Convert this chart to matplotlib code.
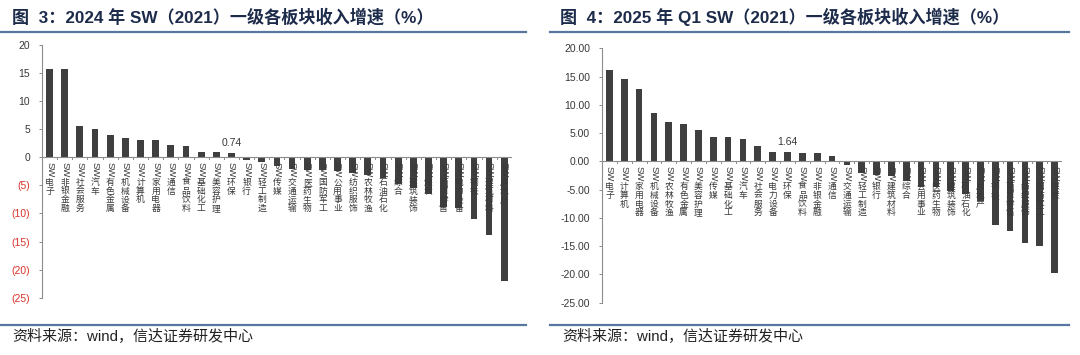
import matplotlib.pyplot as plt
from matplotlib.lines import Line2D
from matplotlib.ticker import FixedLocator

# 2024 年各一级行业收入增速（%）
cats_2024 = ['电子', '非银金融', '社会服务', '汽车', '有色金属', '机械设备', '计算机', '家用电器',
             '通信', '食品饮料', '基础化工', '美容护理', '环保', '银行', '轻工制造', '传媒',
             '交通运输', '医药生物', '国防军工', '公用事业', '纺织服饰', '农林牧渔', '石油石化',
             '综合', '建筑装饰', '煤炭', '商贸零售', '电力设备', '钢铁', '建筑材料', '房地产']
vals_2024 = [15.8, 15.7, 5.5, 5.1, 4.0, 3.45, 3.15, 3.1, 2.26, 2.0, 0.97, 0.95, 0.74, -0.45,
             -0.8, -1.5, -2.0, -2.2, -2.3, -2.5, -2.8, -3.1, -3.6, -4.7, -5.4, -6.6, -8.9,
             -9.0, -11.0, -13.8, -22.1]

# 2025Q1 各一级行业收入增速（%）
cats_2025 = ['电子', '计算机', '家用电器', '机械设备', '农林牧渔', '有色金属', '美容护理', '传媒',
             '基础化工', '汽车', '社会服务', '电力设备', '环保', '食品饮料', '非银金融', '通信',
             '交通运输', '轻工制造', '银行', '建筑材料', '综合', '公用事业', '医药生物', '建筑装饰',
             '石油石化', '房地产', '钢铁', '商贸零售', '纺织服饰', '国防军工', '煤炭']
vals_2025 = [16.2, 14.6, 12.8, 8.5, 6.9, 6.6, 5.6, 4.3, 4.25, 4.0, 2.8, 1.7, 1.64, 1.5, 1.5,
             0.95, -0.7, -2.0, -2.4, -2.5, -3.4, -4.5, -4.6, -5.3, -5.7, -7.0, -11.2, -12.3,
             -14.4, -15.0, -19.7]

yticks = [20, 15, 10, 5, 0, -5, -10, -15, -20, -25]

LATIN = ['Liberation Sans', 'Noto Sans CJK SC']
CJK = ['Noto Sans CJK SC', 'DejaVu Sans']
plt.rcParams['font.family'] = LATIN

BAR = '#3f3f3f'
AXC = '#8c8c8c'
NAVY = '#1d2b4a'
LINEC = '#5877a0'
TXT = '#383838'

fig = plt.figure(figsize=(10.8, 3.55), dpi=100)


def draw_panel(rect, cats, vals, label_idx, label_txt, fmt_tick):
    ax = fig.add_axes(rect)
    x = list(range(len(cats)))
    ax.bar(x, vals, width=0.45, color=BAR, zorder=2)
    ax.set_xlim(-0.5, len(cats) - 0.5)
    ax.set_ylim(-25, 20)
    for s in ['top', 'right', 'bottom']:
        ax.spines[s].set_visible(False)
    ax.spines['left'].set_color(AXC)
    ax.spines['left'].set_linewidth(0.8)
    ax.axhline(0, color=AXC, lw=0.8, zorder=3)
    # small ticks on the zero line between categories
    for b in range(len(cats) + 1):
        ax.plot([b - 0.5, b - 0.5], [0, -0.35], color=AXC, lw=0.7, zorder=3)
    ax.set_xticks([])
    ax.yaxis.set_major_locator(FixedLocator(yticks))
    ax.tick_params(axis='y', length=2.5, width=0.7, color=AXC, pad=6, labelsize=7.5)
    labels = [fmt_tick(t) for t in yticks]
    ax.set_yticklabels([l[0] for l in labels])
    for tl, l in zip(ax.get_yticklabels(), labels):
        tl.set_color(l[1])

    # vertical category labels: "SW" turned, Chinese characters stacked upright
    for i, name in enumerate(cats):
        ax.annotate('SW', xy=(i, 0), xytext=(0, -3.5), textcoords='offset points',
                    rotation=270, ha='center', va='top', fontsize=6.8,
                    color=TXT, family=LATIN, zorder=4)
        ax.annotate('\n'.join(name), xy=(i, 0), xytext=(0, -14.8), textcoords='offset points',
                    ha='center', va='top', fontsize=6.3, linespacing=0.97,
                    color=TXT, family=CJK, zorder=4)
    ax.annotate(label_txt, xy=(label_idx, vals[label_idx]), xytext=(0, 4),
                textcoords='offset points', ha='center', va='bottom', fontsize=7.5,
                color=TXT)
    return ax


def fmt_2024(t):
    if t < 0:
        return ('(%d)' % -t, '#d9342b')
    return ('%d' % t, TXT)


def fmt_2025(t):
    return ('%.2f' % t, TXT)


draw_panel([0.0389, 0.1614, 0.435, 0.712], cats_2024, vals_2024, 12, '0.74', fmt_2024)
draw_panel([0.5574, 0.1473, 0.426, 0.7166], cats_2025, vals_2025, 12, '1.64', fmt_2025)

# titles
fig.text(12 / 1080, 1 - 17 / 355, '图  3：2024 年 SW（2021）一级各板块收入增速（%）',
         fontsize=12.3, fontweight='bold', color=NAVY, va='center', ha='left')
fig.text(560 / 1080, 1 - 17 / 355, '图  4：2025 年 Q1 SW（2021）一级各板块收入增速（%）',
         fontsize=12.3, fontweight='bold', color=NAVY, va='center', ha='left')

# frame lines
for x0, x1 in [(0, 526), (550, 1069)]:
    for yy in [32, 325]:
        fig.add_artist(Line2D([x0 / 1080, x1 / 1080], [1 - yy / 355, 1 - yy / 355],
                              color=LINEC, lw=1.6))

# sources
for x0 in [12, 562]:
    fig.text(x0 / 1080, 1 - 337 / 355, '资料来源：wind，信达证券研发中心',
             fontsize=10.8, color='#222222', va='center', ha='left')

fig.savefig('out.png', dpi=100)
